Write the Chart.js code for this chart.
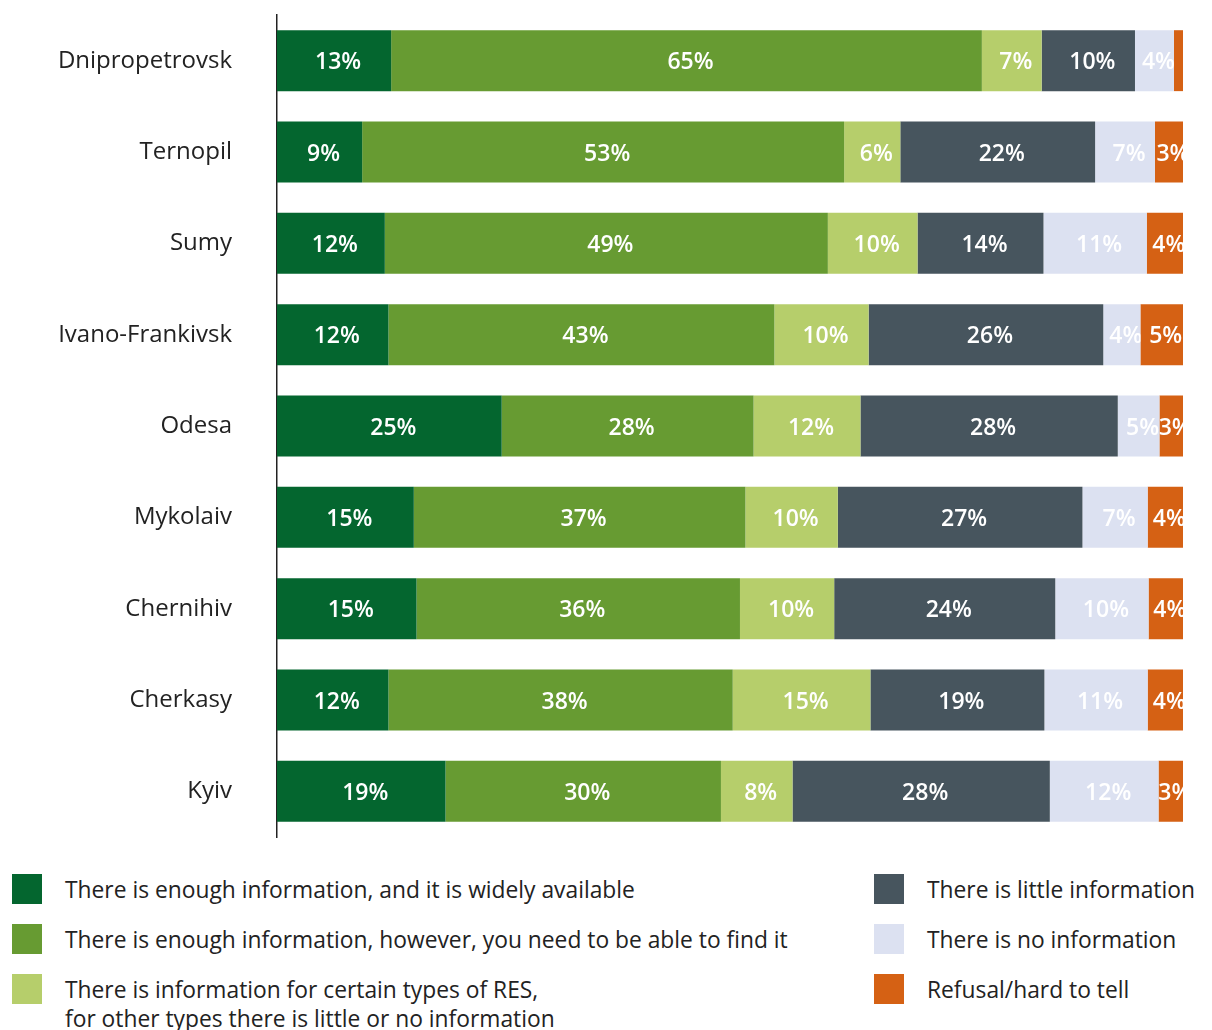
<!DOCTYPE html>
<html>
<head>
<meta charset="utf-8">
<script src="https://cdn.jsdelivr.net/npm/chart.js@4.4.1/dist/chart.umd.min.js"></script>
<style>
  html, body { margin: 0; padding: 0; background: #fff; }
  body { width: 1212px; height: 1030px; position: relative; overflow: hidden; font-family: "Open Sans", sans-serif; }
  #wrap { position: absolute; left: 0; top: 0; width: 1212px; height: 845px; }
  .legend-item { position: absolute; display: flex; align-items: flex-start; font-size: 22.8px; line-height: 29px; color: #222; }
  .legend-item .swatch { width: 30px; height: 30px; flex: none; margin-right: 23px; }
  .legend-item .text { margin-top: 1px; }
</style>
</head>
<body>
<div id="wrap"><canvas id="regions"></canvas></div>
<div id="legend"></div>
<script>
// oblasts, top to bottom
const regions = ['Dnipropetrovsk', 'Ternopil', 'Sumy', 'Ivano-Frankivsk', 'Odesa', 'Mykolaiv', 'Chernihiv', 'Cherkasy', 'Kyiv'];

// answer options
const answers = [
  'There is enough information, and it is widely available',
  'There is enough information, however, you need to be able to find it',
  'There is information for certain types of RES,\nfor other types there is little or no information',
  'There is little information',
  'There is no information',
  'Refusal/hard to tell'
];

// shares, % of respondents, one array per answer (labels show them rounded)
const widelyAvailable = [12.6, 9.4, 11.9, 12.3, 24.8, 15.1, 15.4, 12.3, 18.6];
const needToFind      = [65.2, 53.2, 48.9, 42.6, 27.8, 36.6, 35.7, 38.0, 30.4];
const certainTypes    = [6.6, 6.2, 9.9, 10.4, 11.8, 10.2, 10.4, 15.2, 7.9];
const littleInfo      = [10.3, 21.5, 13.9, 25.9, 28.4, 27.0, 24.4, 19.2, 28.4];
const noInfo          = [4.3, 6.6, 11.4, 4.1, 4.6, 7.2, 10.3, 11.4, 12.0];
const hardToTell      = [1.0, 3.1, 4.0, 4.7, 2.6, 3.9, 3.8, 3.9, 2.7];

const series = [widelyAvailable, needToFind, certainTypes, littleInfo, noInfo, hardToTell];
const colors = ['#04662f', '#679b32', '#b6ce6b', '#47555e', '#dce1f1', '#d56114'];

const FONT = '"Open Sans", sans-serif';

// white value labels, each clipped to its own segment
const segmentLabels = {
  id: 'segmentLabels',
  afterDatasetsDraw(chart) {
    const ctx = chart.ctx;
    const area = chart.chartArea;
    chart.data.datasets.forEach((ds, di) => {
      const meta = chart.getDatasetMeta(di);
      meta.data.forEach((bar, i) => {
        const v = Math.round(ds.data[i]);
        if (v < 2) return;
        const p = bar.getProps(['x', 'y', 'base', 'height'], true);
        const left = Math.max(Math.min(p.x, p.base), area.left);
        const right = Math.min(Math.max(p.x, p.base), area.right);
        if (right <= left) return;
        ctx.save();
        ctx.beginPath();
        ctx.rect(left, p.y - p.height / 2, right - left, p.height);
        ctx.clip();
        ctx.fillStyle = '#ffffff';
        ctx.font = '600 23px ' + FONT;
        ctx.textAlign = 'center';
        ctx.textBaseline = 'middle';
        ctx.fillText(v + '%', (p.x + p.base) / 2 + 4, p.y + 2);
        ctx.restore();
      });
    });
  }
};

const chart = new Chart(document.getElementById('regions'), {
  type: 'bar',
  data: {
    labels: regions,
    datasets: series.map((values, k) => ({
      label: answers[k],
      data: values,
      backgroundColor: colors[k],
      borderWidth: 0,
      barPercentage: 0.667,
      categoryPercentage: 1
    }))
  },
  options: {
    indexAxis: 'y',
    responsive: true,
    maintainAspectRatio: false,
    animation: false,
    events: [],
    layout: { padding: { top: 15, right: 29, bottom: 8, left: 0 } },
    plugins: {
      legend: { display: false },
      tooltip: { enabled: false }
    },
    scales: {
      x: {
        stacked: true,
        display: false,
        min: 0,
        max: 100
      },
      y: {
        stacked: true,
        grid: { display: false, drawTicks: false },
        border: { display: true, color: '#222', width: 1.5 },
        ticks: {
          color: '#222',
          padding: 45,
          font: { family: FONT, size: 24 }
        },
        afterFit(scale) {
          scale.width = 277;
          scale.paddingTop = 0;
          scale.paddingBottom = 0;
        }
      }
    }
  },
  plugins: [segmentLabels]
});

// legend below the chart, two columns
const legend = document.getElementById('legend');
const slots = [
  { left: 12, top: 874 }, { left: 12, top: 924 }, { left: 12, top: 974 },
  { left: 874, top: 874 }, { left: 874, top: 924 }, { left: 874, top: 974 }
];
answers.forEach((text, k) => {
  const item = document.createElement('div');
  item.className = 'legend-item';
  item.style.left = slots[k].left + 'px';
  item.style.top = slots[k].top + 'px';
  const sw = document.createElement('div');
  sw.className = 'swatch';
  sw.style.background = colors[k];
  const label = document.createElement('div');
  label.className = 'text';
  label.innerHTML = text.replace('\n', '<br>');
  item.appendChild(sw);
  item.appendChild(label);
  legend.appendChild(item);
});
</script>
</body>
</html>
